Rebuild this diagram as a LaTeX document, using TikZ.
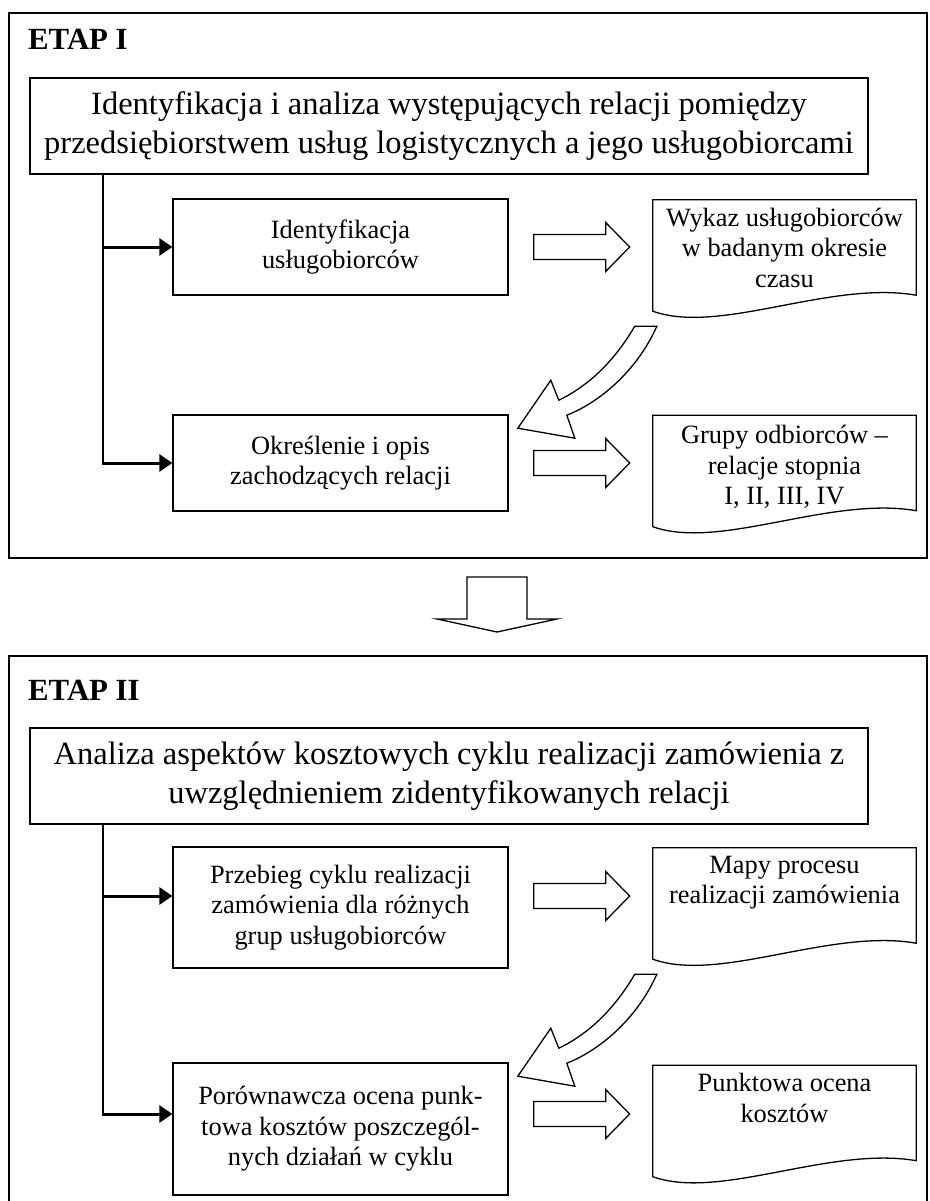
\documentclass[tikz,border=0pt]{standalone}
\usepackage{fontspec}
\setmainfont{Liberation Serif}
\usetikzlibrary{arrows.meta,calc}
\newcommand\docoutline[1]{%
  \draw[docline] (#1.south west) -- (#1.north west) -- (#1.north east) -- ($(#1.south east)+(0,-16)$)
    .. controls ($(#1.south west)+(177,-31)$) and ($(#1.south west)+(67,24)$) .. (#1.south west) -- cycle;}
\newcommand\hollowarrow[1]{%
  \draw[hollow] ($#1+(0,-12.5)$) -- ++(72,0) -- ++(0,-12) -- ($#1+(96,0)$) -- ($#1+(72,24.5)$) -- ++(0,-12) -- ($#1+(0,12.5)$) -- cycle;}
\newcommand\curvedarrow[1]{%
  \draw[hollow] #1 .. controls ($#1+(-20,34)$) and ($#1+(-45,59)$) .. ($#1+(-76,74)$) -- ($#1+(-84,54)$)
    -- ($#1+(-117,102)$) -- ($#1+(-60,112)$) -- ($#1+(-68,89)$)
    .. controls ($#1+(-30,74)$) and ($#1+(5,39)$) .. ($#1+(22,0)$) -- cycle;}
\begin{document}
\begin{tikzpicture}[x=1pt,y=-1pt,
  outerbox/.style={draw,line width=2pt},
  mainbox/.style={draw,line width=1.8pt,minimum width=838pt,minimum height=96pt,align=center,inner sep=0pt,font=\fontsize{32.5}{39}\selectfont},
  stepbox/.style={draw,line width=1.3pt,minimum width=335pt,align=center,inner sep=0pt,font=\fontsize{26.4}{30.4}\selectfont},
  docarea/.style={minimum width=263pt,minimum height=111pt,inner sep=0pt},
  docline/.style={line width=1.3pt,line join=miter},
  doctext/.style={anchor=north,align=center,inner sep=0pt,font=\fontsize{26.4}{30.4}\selectfont},
  title/.style={anchor=base west,inner sep=0pt,font=\fontsize{30.8}{35}\selectfont\bfseries},
  feed/.style={line width=3pt,-{Triangle[length=13pt,width=17pt]}},
  bus/.style={line width=1.6pt},
  hollow/.style={draw,line width=1.3pt,fill=white,line join=miter}
]
\useasboundingbox (0,0) rectangle (929,1201);
% ---------- ETAP I ----------
\draw[outerbox] (9,13) rectangle (927,558);
\node[title] (t1) at (28,50) {ETAP I};
\node[mainbox] (mainI) at (449,126) {Identyfikacja i analiza występujących relacji pomiędzy\\przedsiębiorstwem usług logistycznych a jego usługobiorcami};
\node[stepbox,minimum height=96pt] (idA) at (340.5,247) {Identyfikacja\\usługobiorców};
\node[stepbox,minimum height=96pt] (idB) at (340.5,463) {Określenie i opis\\zachodzących relacji};
\node[docarea] (doc1) at (784.5,255.5) {};
\node[docarea] (doc2) at (784.5,471) {};
\docoutline{doc1}
\docoutline{doc2}
\node[doctext] (doc1t) at ($(doc1.north)+(0,8)$) {Wykaz usługobiorców\\w badanym okresie\\czasu};
\node[doctext] (doc2t) at ($(doc2.north)+(0,10)$) {Grupy odbiorców –\\relacje stopnia\\I, II, III, IV};
\coordinate (busI) at (103,0);
\draw[bus] (mainI.south -| busI) -- (busI |- idB.west);
\draw[feed] ([xshift=-0.8pt]busI |- idA.west) -- (idA.west);
\draw[feed] ([xshift=-0.8pt]busI |- idB.west) -- (idB.west);
\coordinate (haA) at ($(idA.east)+(25,0)$);
\coordinate (haB) at ($(idB.east)+(25,0)$);
\hollowarrow{(haA)}
\hollowarrow{(haB)}
\coordinate (caI) at ($(doc1.south west)+(-18,15)$);
\curvedarrow{(caI)}
% ---------- transition arrow ----------
\draw[hollow] (467,577) -- (527,577) -- (527,619) -- (557,619) -- (497,632) -- (437,619) -- (467,619) -- cycle;
% ---------- ETAP II ----------
\draw[outerbox] (9,656) rectangle (927,1215);
\node[title] (t2) at (28,700) {ETAP II};
\node[mainbox] (mainII) at (449,776) {Analiza aspektów kosztowych cyklu realizacji zamówienia z\\uwzględnieniem zidentyfikowanych relacji};
\node[stepbox,minimum height=121pt] (idC) at (340.5,907.5) {Przebieg cyklu realizacji\\zamówienia dla różnych\\grup usługobiorców};
\node[stepbox,minimum height=132pt] (idD) at (340.5,1129) {Porównawcza ocena punk-\\towa kosztów poszczegól-\\nych działań w cyklu};
\node[docarea] (doc3) at (784.5,903.5) {};
\node[docarea] (doc4) at (784.5,1121) {};
\docoutline{doc3}
\docoutline{doc4}
\node[doctext] (doc3t) at ($(doc3.north)+(0,8)$) {Mapy procesu\\realizacji zamówienia};
\node[doctext] (doc4t) at ($(doc4.north)+(0,8)$) {Punktowa ocena\\kosztów};
\coordinate (busII) at (103,0);
\coordinate (fC) at ($(idC.west)+(0,-11.5)$);
\coordinate (fD) at ($(idD.west)+(0,-15)$);
\draw[bus] (mainII.south -| busII) -- (busII |- fD);
\draw[feed] ([xshift=-0.8pt]busII |- fC) -- (fC);
\draw[feed] ([xshift=-0.8pt]busII |- fD) -- (fD);
\coordinate (haC) at ($(idC.east)+(25,-11.5)$);
\coordinate (haD) at ($(idD.east)+(25,-15)$);
\hollowarrow{(haC)}
\hollowarrow{(haD)}
\coordinate (caII) at ($(doc3.south west)+(-18,15)$);
\curvedarrow{(caII)}
\end{tikzpicture}
\end{document}
